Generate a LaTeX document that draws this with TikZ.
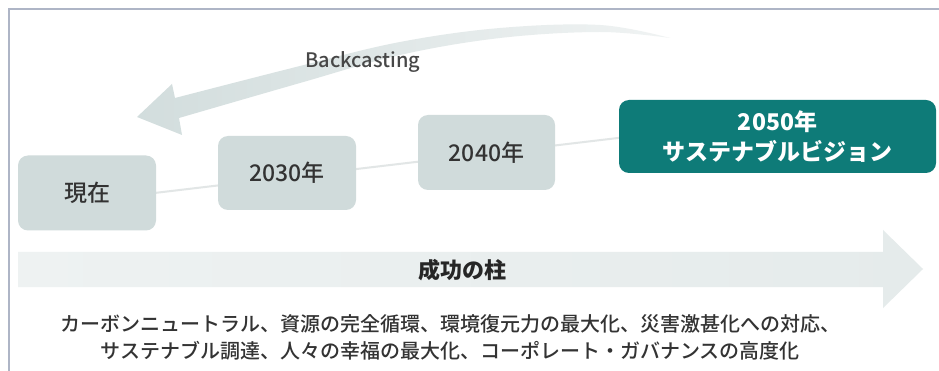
\documentclass[tikz,border=0pt]{standalone}
\usepackage{fontspec}
\setmainfont{Noto Sans CJK JP}
\newfontfamily\medfont{Noto Sans CJK JP Medium}
\definecolor{framec}{HTML}{AEB5C6}
\definecolor{boxgray}{HTML}{D0DBDB}
\definecolor{teal2050}{HTML}{0E7B78}
\definecolor{txtdark}{HTML}{333333}
\definecolor{linec}{HTML}{E2E6E6}
\definecolor{pillar}{HTML}{E5EBEB}
\definecolor{pillarl}{HTML}{EEF2F2}
\definecolor{backl}{HTML}{D2DDDD}
\definecolor{backr}{HTML}{F0F3F3}
\tikzset{
  yearbox/.style={draw=none, fill=boxgray, rounded corners=10pt, minimum width=138pt, minimum height=75pt, inner sep=0pt, text=txtdark, font=\medfont\fontsize{23}{26}\selectfont},
  visionbox/.style={draw=none, fill=teal2050, rounded corners=10pt, minimum width=317pt, minimum height=73pt, inner sep=0pt, text=white, align=center, font=\bfseries\fontsize{23}{30}\selectfont},
  timeline/.style={draw=linec, line width=2pt},
  plain/.style={text=txtdark, inner sep=0pt}
}
\begin{document}
\begin{tikzpicture}[x=1pt, y=-1pt]
\useasboundingbox (0,0) rectangle (939,371);
\fill[white] (0,0) rectangle (939,371);
% frame
\draw[framec, line width=1.6pt] (9,371) -- (9,9) -- (939,9);
% backcasting arrow
\shade[left color=backl, right color=backr]
  plot[smooth, tension=0.6] coordinates {(670,38) (600,25) (500,28) (400,42) (300,66) (175,98)}
  -- (172,84) -- (137,117) -- (182,135) -- (179,118)
  -- plot[smooth, tension=0.6] coordinates {(179,118) (300,83) (400,55) (500,38) (600,32) (670,38)} -- cycle;
\node[plain, font=\medfont\fontsize{20}{22}\selectfont, text=txtdark!90] (back) at (363,62) {Backcasting};
% pillar arrow
\shade[left color=pillarl, right color=pillar]
  (18,252) -- (883,252) -- (883,230) -- (923,269) -- (883,308) -- (883,287) -- (18,287) -- cycle;
\node[plain, font=\bfseries\fontsize{22}{24}\selectfont, text=black!85] (pillartitle) at (462,270) {成功の柱};
% timeline line
\coordinate (lineA) at (87,201);
\coordinate (lineB) at (778,119);
\draw[timeline] (lineA) -- (lineB);
% boxes
\node[yearbox] (now) at (87,193) {現在};
\node[yearbox, minimum height=74pt] (y2030) at (287,173) {2030年};
\node[yearbox, minimum width=137pt] (y2040) at (486.5,152.5) {2040年};
\node[visionbox] (y2050) at (777.5,136.5) {2050年\\サステナブルビジョン};
% bottom text
\node[plain, align=center, font=\medfont\fontsize{20}{27}\selectfont] (pillars) at (450,337)
  {カーボンニュートラル、資源の完全循環、環境復元力の最大化、災害激甚化への対応、\\サステナブル調達、人々の幸福の最大化、コーポレート・ガバナンスの高度化};
\end{tikzpicture}
\end{document}
